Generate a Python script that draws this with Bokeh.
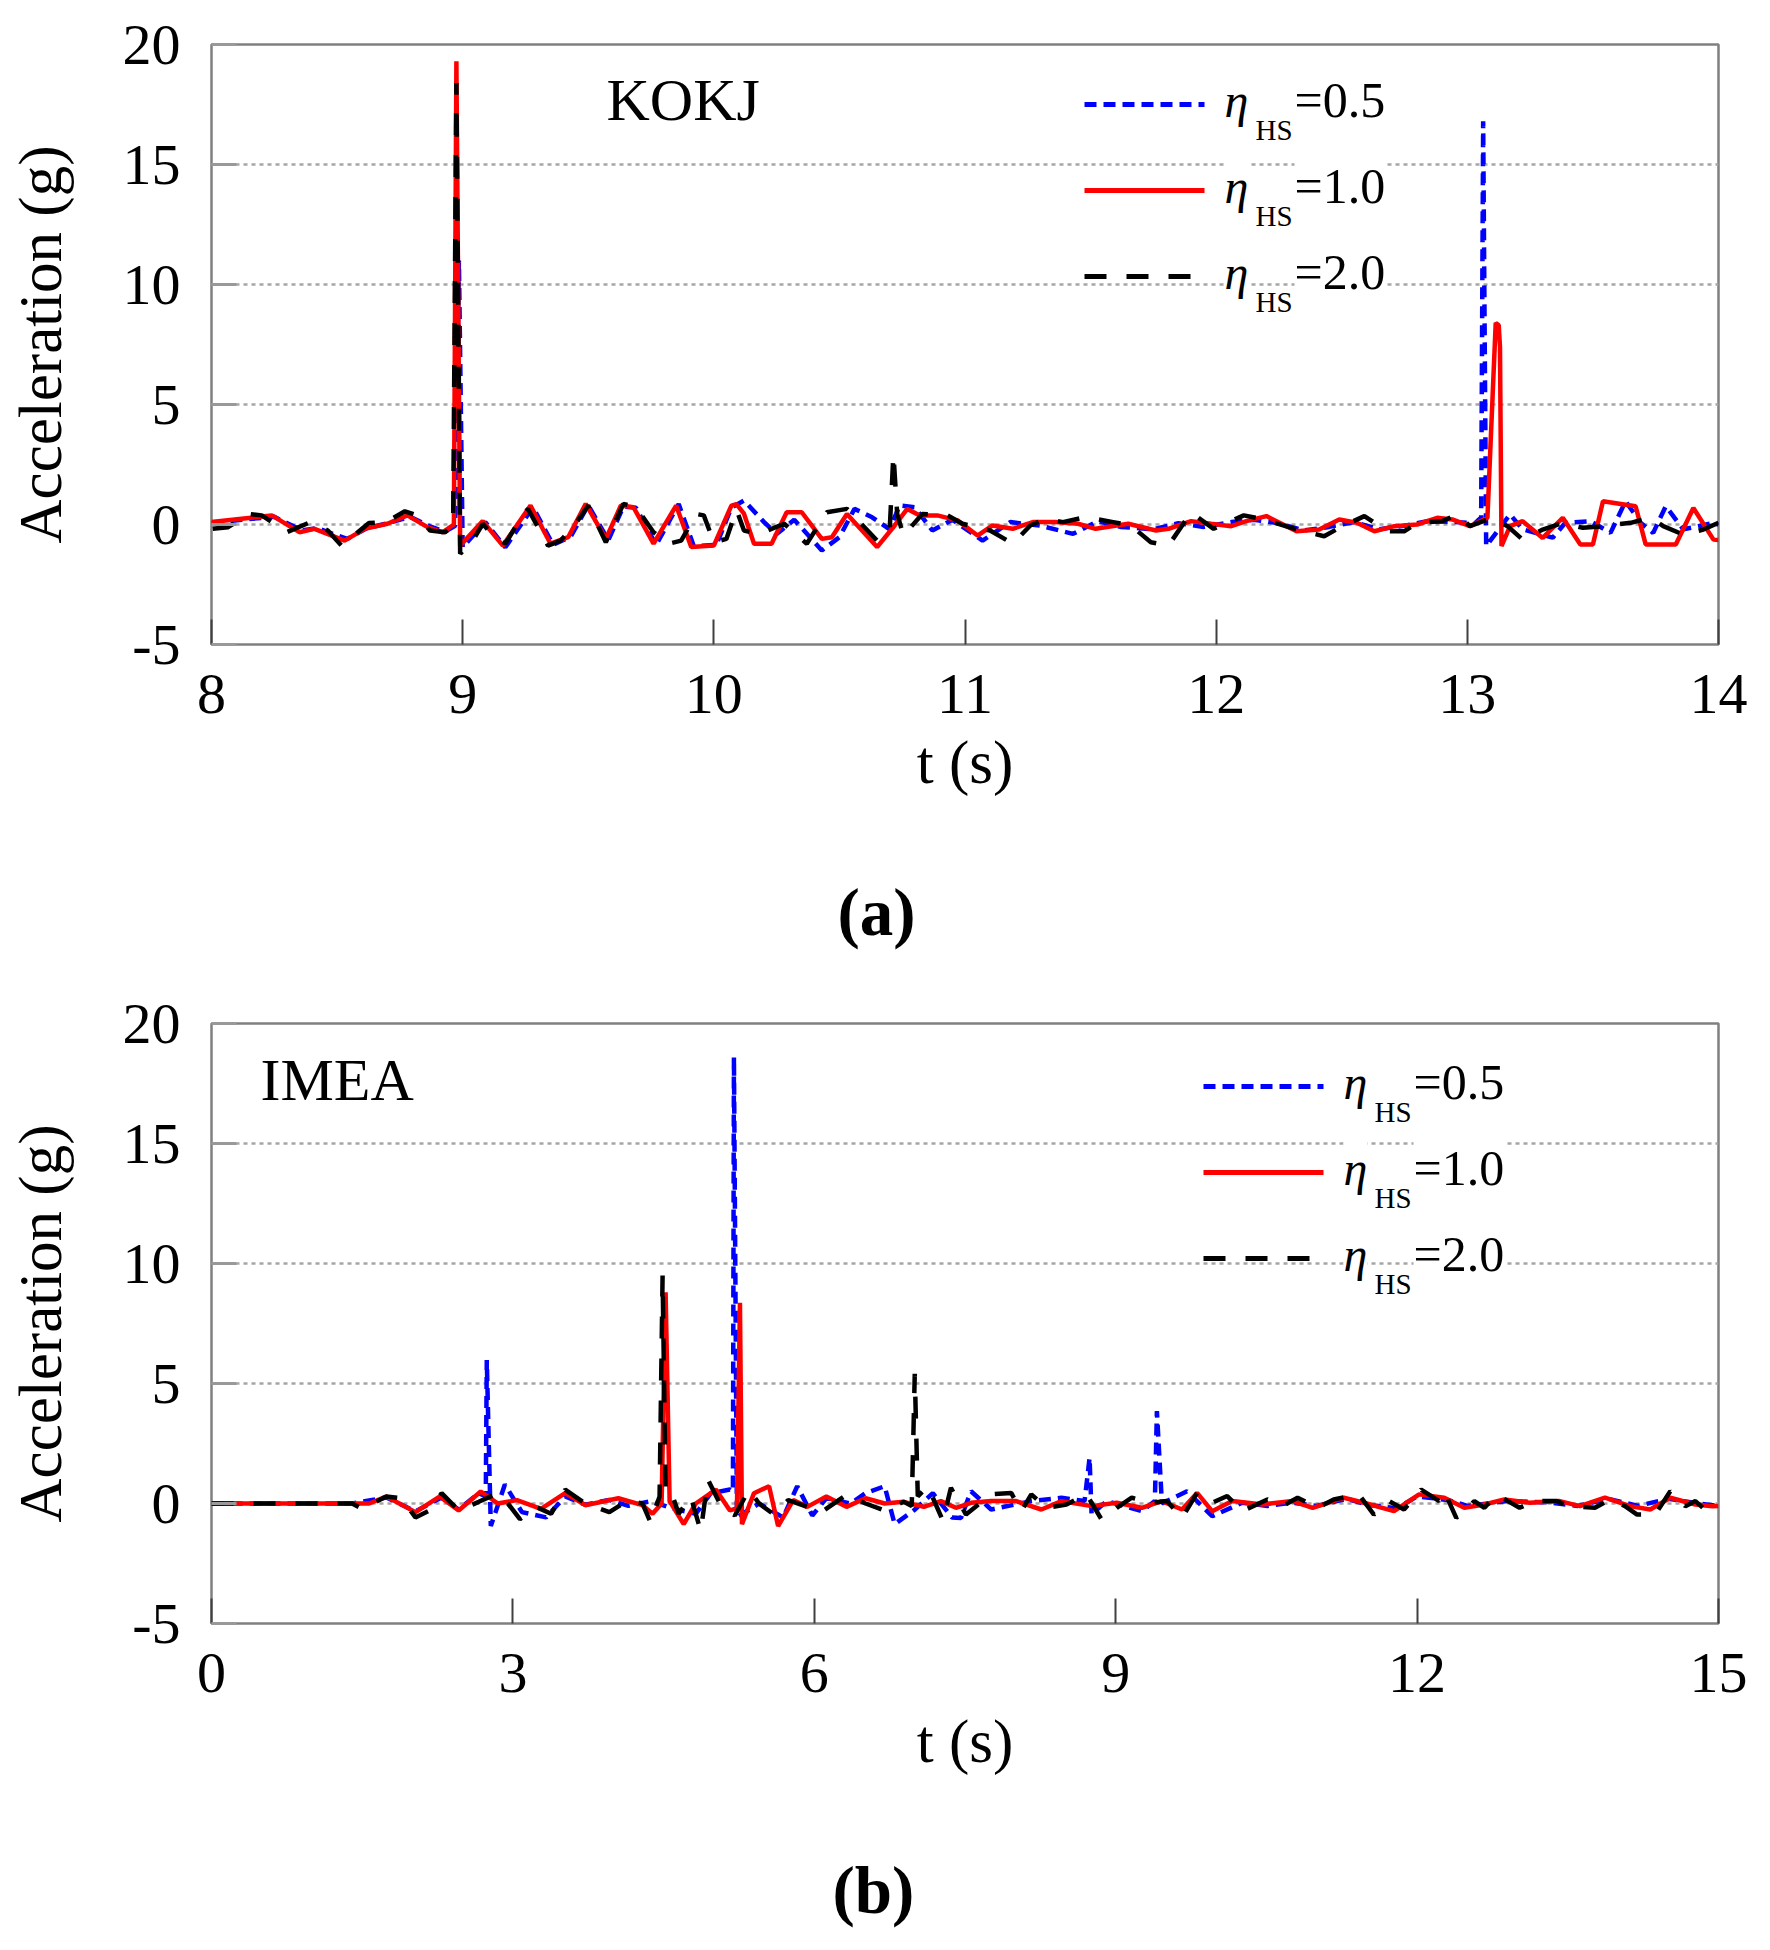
from bokeh.plotting import figure
from bokeh.models import Range1d, FixedTicker, Label, Arrow, Title
from bokeh.layouts import column
from bokeh.embed import file_html
from bokeh.resources import INLINE

FONT = "Liberation Serif"

# ---------------- data: (a) KOKJ ----------------
kokj_t_05 = [8.00, 8.12, 8.25, 8.36, 8.42, 8.54, 8.62, 8.70, 8.79, 8.87, 8.93, 8.97, 8.985, 9.00,
             9.09, 9.17, 9.28, 9.36, 9.43, 9.50, 9.58, 9.64, 9.69, 9.77, 9.86, 9.92, 10.01, 10.07,
             10.12, 10.20, 10.25, 10.32, 10.43, 10.50, 10.56, 10.63, 10.70, 10.74, 10.80, 10.87,
             10.95, 11.07, 11.18, 11.30, 11.43, 11.53, 11.62, 11.75, 11.85, 11.95, 12.06, 12.15,
             12.25, 12.35, 12.45, 12.55, 12.65, 12.75, 12.85, 12.95, 13.03, 13.055, 13.063, 13.075,
             13.17, 13.22, 13.34, 13.39, 13.49, 13.57, 13.63, 13.69, 13.74, 13.79, 13.86, 13.92,
             13.98, 14.00]
kokj_a_05 = [0.05, 0.20, 0.32, -0.25, -0.15, -0.60, -0.15, 0.05, 0.32, -0.08, -0.30, -0.05, 11.0, -0.95,
             0.10, -0.95, 0.72, -0.85, -0.50, 0.80, -0.65, 0.75, 0.70, -0.85, 0.85, -0.90, -0.85, 0.70,
             1.00, 0.10, -0.40, 0.20, -1.08, -0.53, 0.65, 0.30, -0.20, 0.80, 0.72, -0.25,
             0.20, -0.67, 0.10, -0.05, -0.39, 0.14, -0.10, -0.20, 0.05, -0.10, 0.10, 0.20,
             0.05, -0.25, -0.10, 0.10, -0.20, -0.05, 0.15, 0.10, 0.05, 0.30, 16.8, -0.90,
             0.42, -0.20, -0.55, 0.07, 0.14, -0.35, 0.97, 0.07, -0.35, 0.76, -0.20, -0.07,
             0.07, 0.00]

kokj_t_10 = [8.00, 8.12, 8.24, 8.35, 8.41, 8.53, 8.61, 8.70, 8.78, 8.86, 8.92, 8.965, 8.975, 8.99,
             9.08, 9.16, 9.27, 9.35, 9.42, 9.49, 9.57, 9.63, 9.68, 9.76, 9.85, 9.91, 10.00, 10.07,
             10.09, 10.12, 10.16, 10.23, 10.29, 10.35, 10.43, 10.47, 10.53, 10.65, 10.72, 10.77,
             10.82, 10.89, 10.97, 11.05, 11.11, 11.19, 11.27, 11.36, 11.45, 11.52, 11.65, 11.76,
             11.81, 11.90, 11.98, 12.06, 12.12, 12.20, 12.32, 12.41, 12.49, 12.56, 12.63, 12.71,
             12.80, 12.88, 12.94, 13.01, 13.08, 13.113, 13.125, 13.13, 13.136, 13.17, 13.22, 13.30,
             13.38, 13.45, 13.50, 13.54, 13.67, 13.71, 13.83, 13.90, 13.98, 14.00]
kokj_a_10 = [0.10, 0.24, 0.38, -0.32, -0.18, -0.67, -0.18, 0.03, 0.38, -0.11, -0.33, 0.00, 19.3, -0.88,
             0.14, -0.88, 0.79, -0.80, -0.53, 0.86, -0.60, 0.79, 0.72, -0.80, 0.79, -0.94, -0.88, 0.79,
             0.85, 0.45, -0.80, -0.80, 0.51, 0.51, -0.60, -0.53, 0.44, -0.94, -0.04, 0.65,
             0.38, 0.38, 0.17, -0.46, -0.04, -0.18, 0.10, 0.10, 0.03, -0.18, 0.03, -0.25,
             -0.18, 0.14, 0.03, -0.07, 0.14, 0.35, -0.28, -0.21, 0.21, 0.07, -0.28, -0.07,
             0.00, 0.28, 0.21, -0.07, 0.28, 8.4, 8.3, 7.4, -0.90, -0.07, 0.14, -0.56,
             0.28, -0.83, -0.83, 0.97, 0.76, -0.83, -0.83, 0.69, -0.63, -0.65]

kokj_t_20 = [8.005, 8.066, 8.148, 8.20, 8.30, 8.394, 8.463, 8.518, 8.559, 8.627, 8.695, 8.77, 8.82,
             8.87, 8.93, 8.962, 8.975, 8.99, 9.04, 9.08, 9.12, 9.17, 9.23, 9.26, 9.34, 9.39, 9.45,
             9.50, 9.57, 9.64, 9.69, 9.76, 9.82, 9.87, 9.93, 9.96, 10.00, 10.05, 10.09, 10.12,
             10.18, 10.28, 10.37, 10.45, 10.53, 10.65, 10.70, 10.715, 10.73, 10.755, 10.83, 10.93,
             10.99, 11.10, 11.19, 11.26, 11.32, 11.39, 11.48, 11.59, 11.66, 11.74, 11.81, 11.90,
             11.99, 12.11, 12.19, 12.32, 12.43, 12.49, 12.59, 12.68, 12.75, 12.80, 12.90, 12.96,
             13.01, 13.10, 13.16, 13.22, 13.30, 13.38, 13.46, 13.54, 13.65, 13.73, 13.78, 13.86,
             13.94, 14.00]
kokj_a_20 = [-0.18, -0.11, 0.44, 0.38, -0.32, 0.10, -0.25, -0.88, -0.53, 0.06, 0.10, 0.55, 0.38,
             -0.25, -0.32, -0.05, 18.4, -1.22, -0.67, 0.03, -0.46, -0.80, 0.24, 0.65, -0.88, -0.67, 0.03,
             0.79, -0.74, 0.86, 0.72, -0.32, -0.80, -0.67, 0.44, 0.38, -0.74, -0.60, 0.62, -0.25,
             -0.39, 0.03, -0.80, 0.51, 0.65, -0.67, -0.25, 2.94, 0.44, -0.46, 0.44, 0.38,
             0.03, -0.25, -0.80, -0.04, 0.24, 0.10, 0.31, 0.10, -0.04, -0.74, -0.88, 0.51,
             -0.18, 0.38, 0.21, -0.21, -0.49, -0.14, 0.35, -0.28, -0.28, 0.07, 0.14, 0.42,
             -0.07, 0.28, -0.07, -0.63, -0.21, 0.07, -0.14, -0.07, 0.07, 0.28, -0.07, -0.42,
             -0.21, 0.07]

# ---------------- data: (b) IMEA ----------------
imea_t_05 = [0.00, 1.40, 1.74, 2.03, 2.29, 2.46, 2.66, 2.73, 2.74, 2.78, 2.92, 3.09, 3.33, 3.52,
             3.72, 3.96, 4.15, 4.37, 4.58, 4.82, 4.97, 5.16, 5.19, 5.20, 5.23, 5.45, 5.69, 5.83,
             5.98, 6.12, 6.36, 6.51, 6.70, 6.80, 6.99, 7.18, 7.37, 7.46, 7.56, 7.76, 8.16, 8.46,
             8.69, 8.74, 8.76, 8.91, 9.26, 9.39, 9.41, 9.46, 9.71, 9.96, 10.26, 10.51, 10.76,
             11.00, 11.30, 11.50, 11.80, 12.00, 12.30, 12.50, 12.90, 13.30, 13.60, 13.90, 14.20,
             14.50, 14.80, 15.00]
imea_a_05 = [0.00, 0.00, 0.25, -0.33, 0.25, -0.25, 0.43, 0.30, 5.98, -0.94, 0.79, -0.36, -0.58, 0.29,
             -0.05, 0.15, -0.10, 0.10, -0.20, -0.43, 0.43, 0.58, 0.50, 18.6, -0.58, 0.00, -0.58, 0.72,
             -0.50, 0.22, 0.00, 0.43, 0.72, -0.86, -0.29, 0.43, -0.58, -0.60, 0.51, -0.25, 0.10, 0.24,
             0.10, 1.90, -0.46, 0.10, -0.32, 0.10, 3.85, 0.00, 0.51, -0.53, 0.03, -0.10, 0.03,
             -0.10, 0.20, -0.05, -0.20, 0.30, 0.15, -0.10, 0.10, 0.05, -0.10, 0.20, -0.10,
             0.20, 0.00, -0.10]

imea_t_10 = [0.00, 1.40, 1.57, 1.74, 2.03, 2.27, 2.46, 2.68, 2.85, 3.04, 3.28, 3.52, 3.72, 4.05,
             4.29, 4.39, 4.48, 4.52, 4.56, 4.70, 4.82, 5.02, 5.16, 5.23, 5.26, 5.28, 5.40, 5.55,
             5.64, 5.79, 5.93, 6.12, 6.32, 6.51, 6.70, 6.89, 7.09, 7.26, 7.41, 7.56, 7.76, 8.01,
             8.26, 8.46, 8.76, 9.01, 9.26, 9.46, 9.66, 9.81, 9.96, 10.16, 10.46, 10.76, 10.96,
             11.27, 11.47, 11.77, 12.02, 12.27, 12.47, 12.67, 12.87, 13.12, 13.42, 13.62, 13.87,
             14.12, 14.32, 14.52, 14.77, 14.94, 15.00]
imea_a_10 = [0.00, 0.00, 0.00, 0.29, -0.36, 0.29, -0.29, 0.50, 0.00, 0.14, -0.22, 0.43, -0.07, 0.22,
             -0.07, -0.43, 0.00, 8.8, 0.10, -0.86, 0.00, 0.58, -0.29, -0.20, 8.36, -0.86, 0.43, 0.72,
             -0.94, 0.14, -0.14, 0.29, -0.14, 0.22, 0.00, 0.07, -0.14, 0.10, -0.18, 0.03, 0.10, 0.10,
             -0.25, 0.10, -0.11, 0.03, -0.18, 0.10, -0.25, 0.44, -0.32, 0.10, -0.04, 0.10, -0.18,
             0.24, 0.03, -0.32, 0.38, 0.24, -0.18, -0.04, 0.17, 0.03, 0.10, -0.11, 0.24,
             -0.11, -0.25, 0.24, -0.04, -0.11, -0.10]

imea_t_20 = [0.00, 1.40, 1.50, 1.74, 1.89, 2.03, 2.17, 2.29, 2.46, 2.66, 2.85, 2.95, 3.07, 3.23,
             3.38, 3.52, 3.72, 3.96, 4.15, 4.29, 4.37, 4.46, 4.49, 4.52, 4.58, 4.65, 4.77, 4.87,
             4.94, 5.06, 5.21, 5.35, 5.45, 5.59, 5.74, 5.93, 6.07, 6.32, 6.51, 6.70, 6.89, 6.97,
             7.00, 7.03, 7.13, 7.28, 7.36, 7.51, 7.76, 7.96, 8.06, 8.16, 8.31, 8.51, 8.71, 8.86,
             9.01, 9.16, 9.36, 9.51, 9.66, 9.81, 9.96, 10.11, 10.26, 10.51, 10.66, 10.81, 11.01,
             11.17, 11.42, 11.57, 11.72, 11.87, 12.04, 12.22, 12.27, 12.39, 12.57, 12.67, 12.79,
             13.02, 13.17, 13.39, 13.52, 13.77, 13.92, 14.07, 14.19, 14.37, 14.52, 14.67, 14.77,
             14.92, 15.00]
imea_a_20 = [0.00, 0.00, -0.22, 0.29, 0.22, -0.58, -0.29, 0.43, -0.29, 0.07, 0.43, 0.00, -0.65, -0.14,
             -0.43, 0.58, 0.00, -0.36, 0.14, 0.00, -0.79, 0.29, 9.5, 0.43, 0.43, -0.43, 0.29, -1.15,
             1.00, 0.00, -0.50, 0.58, 0.00, -0.43, 0.14, -0.14, -0.36, 0.36, 0.00, -0.29, 0.07, -0.10,
             5.4, 0.30, 0.72, -0.72, 0.65, -0.46, 0.38, 0.44, -0.32, 0.38, -0.18, -0.04, 0.38, -0.67,
             -0.18, 0.24, 0.03, 0.10, -0.60, 0.44, 0.03, 0.31, -0.32, 0.17, -0.11, 0.24, -0.18,
             0.17, 0.38, -0.46, 0.10, -0.25, 0.58, 0.10, 0.51, -0.60, 0.10, -0.18, 0.38,
             -0.18, 0.10, 0.10, -0.11, -0.18, 0.17, -0.11, -0.46, -0.46, 0.51, -0.11, 0.10,
             -0.46, -0.30]

# ---------------- axes / labels ----------------
y_ticks = [-5, 0, 5, 10, 15, 20]
y_tick_labels = ["-5", "0", "5", "10", "15", "20"]
kokj_x_ticks = [8, 9, 10, 11, 12, 13, 14]
kokj_x_tick_labels = ["8", "9", "10", "11", "12", "13", "14"]
imea_x_ticks = [0, 3, 6, 9, 12, 15]
imea_x_tick_labels = ["0", "3", "6", "9", "12", "15"]
legend_values = ["=0.5", "=1.0", "=2.0"]

# ---------------- styles / layout ----------------
FRAME_W = 1507
FRAME_H = 600
STYLES = [("#0000ff", "12 7"), ("#ff0000", "solid"), ("#000000", "22 20")]


def fx(px, xr):
    return xr[0] + px / FRAME_W * (xr[1] - xr[0])


def fy(py, yr):
    return yr[1] - py / FRAME_H * (yr[1] - yr[0])


def build(xr, xticks, xlabels, series, station, station_px, legend_px, caption,
          cap_offset, height, top, bottom, gap):
    yr = (-5, 20)
    p = figure(width=1760, height=height, x_range=Range1d(*xr), y_range=Range1d(*yr),
               output_backend="svg", toolbar_location=None,
               min_border_left=211, min_border_right=1760 - 211 - FRAME_W,
               min_border_top=top, min_border_bottom=bottom)
    p.background_fill_color = "white"
    p.border_fill_color = "white"
    p.outline_line_color = "#808080"
    p.outline_line_width = 2.5

    p.xgrid.visible = False
    p.ygrid.ticker = FixedTicker(ticks=[0, 5, 10, 15])
    p.ygrid.grid_line_color = "#a6a6a6"
    p.ygrid.grid_line_width = 2.5
    p.ygrid.grid_line_dash = "4 4"

    for (t, a), (color, dash) in zip(series, STYLES):
        p.line(t, a, line_color=color, line_width=4.5, line_dash=dash)

    p.xaxis.ticker = FixedTicker(ticks=xticks)
    p.xaxis.major_label_overrides = {k: v for k, v in zip(xticks, xlabels)}
    p.yaxis.ticker = FixedTicker(ticks=y_ticks)
    p.yaxis.major_label_overrides = {k: v for k, v in zip(y_ticks, y_tick_labels)}
    for ax in (p.xaxis, p.yaxis):
        ax.axis_line_color = None
        ax.minor_tick_line_color = None
        ax.major_tick_in = 25
        ax.major_tick_out = 0
        ax.major_label_text_font = FONT
        ax.major_label_text_font_size = "58px"
        ax.major_label_text_color = "black"
        ax.axis_label_text_font = FONT
        ax.axis_label_text_font_size = "61px"
        ax.axis_label_text_font_style = "normal"
        ax.axis_label_text_color = "black"
    p.xaxis.major_tick_line_color = "#404040"
    p.xaxis.major_tick_line_width = 2
    p.yaxis.major_tick_line_color = "#999999"
    p.yaxis.major_tick_line_width = 3
    p.xaxis.axis_label = "t (s)"
    p.yaxis.axis_label = "Acceleration (g)"
    p.xaxis.major_label_standoff = 30
    p.xaxis.axis_label_standoff = 13
    p.yaxis.major_label_standoff = 31
    p.yaxis.axis_label_standoff = 46

    p.add_layout(Label(x=fx(station_px[0], xr), y=fy(station_px[1], yr), text=station,
                       text_font=FONT, text_font_size="60px", text_baseline="middle",
                       text_align="left", text_color="black"))

    lx0, lx1, ly0 = legend_px
    for i, ((color, dash), val) in enumerate(zip(STYLES, legend_values)):
        ly = ly0 + i * 86
        p.add_layout(Arrow(x_start=fx(lx0, xr), y_start=fy(ly, yr), x_end=fx(lx1, xr),
                           y_end=fy(ly, yr), end=None, line_color=color, line_width=5,
                           line_dash=dash))
        p.add_layout(Label(x=fx(lx1 + 20, xr), y=fy(ly - 4, yr), text="η",
                           text_font=FONT, text_font_size="48px", text_font_style="italic",
                           text_baseline="middle", text_color="black",
                           background_fill_color="white"))
        p.add_layout(Label(x=fx(lx1 + 51, xr), y=fy(ly + 25, yr), text="HS",
                           text_font=FONT, text_font_size="29px",
                           text_baseline="middle", text_color="black"))
        p.add_layout(Label(x=fx(lx1 + 90, xr), y=fy(ly - 5, yr), text=val,
                           text_font=FONT, text_font_size="50px",
                           text_baseline="middle", text_color="black",
                           background_fill_color="white"))

    # blank spacer panel between the axis title and the panel caption
    p.add_layout(Title(text=" ", standoff=gap, text_font_size="1px"), "below")
    p.add_layout(Title(text=caption, align="left", offset=cap_offset, standoff=0,
                       text_font=FONT, text_font_size="67px", text_font_style="bold",
                       text_color="black"), "below")
    return p


p1 = build((8, 14), kokj_x_ticks, kokj_x_tick_labels,
           [(kokj_t_05, kokj_a_05), (kokj_t_10, kokj_a_10), (kokj_t_20, kokj_a_20)],
           "KOKJ", (395, 55), (873, 993, 60), "(a)", 626, 992, 44, 348, 71)
p2 = build((0, 15), imea_x_ticks, imea_x_tick_labels,
           [(imea_t_05, imea_a_05), (imea_t_10, imea_a_10), (imea_t_20, imea_a_20)],
           "IMEA", (49, 56), (992, 1112, 63), "(b)", 621, 942, 31, 311, 70)

layout = column(p1, p2)
open("out.html", "w").write(file_html(layout, INLINE))
